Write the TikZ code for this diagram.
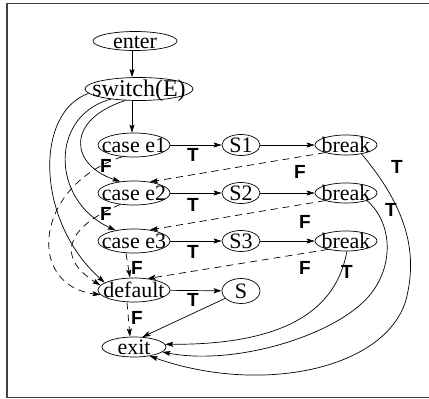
\documentclass[tikz,border=0pt]{standalone}
\usepackage{fontspec}
\setmainfont{Liberation Serif}
\newfontfamily\lblfont{Liberation Sans}
\usetikzlibrary{shapes.geometric,arrows.meta}
\newcommand{\ntext}[1]{\makebox[0pt]{\raisebox{-0.33em}[0pt][0pt]{#1}}}
\begin{document}
\begin{tikzpicture}[x=1pt,y=-1pt,
  nd/.style={ellipse,draw,line width=0.7pt,inner sep=0pt,font=\fontsize{22}{26}\selectfont},
  casebox/.style={nd,minimum width=72pt,minimum height=24pt},
  sbox/.style={nd,minimum width=38pt,minimum height=21pt},
  brk/.style={nd,minimum width=62pt,minimum height=20pt},
  edge/.style={line width=0.7pt,-{Stealth[length=8pt,width=5pt,inset=1.5pt]}},
  fedge/.style={edge,dash pattern=on 7pt off 5pt},
  lbl/.style={font=\lblfont\bfseries\fontsize{19}{21}\selectfont,inner sep=0pt}]
\useasboundingbox (0,0) rectangle (429,399);
\draw[line width=1.2pt,black!75] (7,3.5) rectangle (445,397.5);

\node[nd,minimum width=84pt,minimum height=19pt] (enter) at (135,41) {\ntext{enter}};
\node[nd,minimum width=108pt,minimum height=23pt,font=\fontsize{24}{28}\selectfont] (sw) at (139,89) {\ntext{switch(E)}};
\node[casebox] (e1) at (134,145) {\ntext{case e1}};
\node[casebox] (e2) at (134,193) {\ntext{case e2}};
\node[casebox] (e3) at (134,241) {\ntext{case e3}};
\node[casebox] (def) at (134,290) {\ntext{default}};
\node[nd,minimum width=64pt,minimum height=20pt] (exit) at (134,347) {\ntext{exit}};
\node[sbox] (s1) at (241,145) {\ntext{S1}};
\node[sbox] (s2) at (241,193) {\ntext{S2}};
\node[sbox] (s3) at (241,241) {\ntext{S3}};
\node[nd,minimum width=38pt,minimum height=25pt] (s) at (241,291) {\ntext{S}};
\node[brk] (b1) at (346,145) {\ntext{break}};
\node[brk] (b2) at (346,193) {\ntext{break}};
\node[brk] (b3) at (346,241) {\ntext{break}};

% vertical
\draw[edge] (enter.south -| 132,0) -- (sw.north -| 132,0);
\draw[edge] (sw.south -| 132,0) -- (e1.north -| 132,0);

% rows
\draw[edge] (e1) -- (s1);
\draw[edge] (s1) -- (b1);
\draw[edge] (e2) -- (s2);
\draw[edge] (s2) -- (b2);
\draw[edge] (e3) -- (s3);
\draw[edge] (s3) -- (b3);
\draw[edge] (def) -- (s);
\draw[edge] (s) -- (exit.50);

% switch to cases
\draw[edge] (sw.220) .. controls (65,120) and (70,165) .. (e2.140);
\draw[edge] (sw.200) .. controls (50,115) and (50,200) .. (e3.150);
\draw[edge] (sw.185) .. controls (35,112) and (35,220) .. (def.166);

% F edges on left
\draw[fedge] (e1.225) .. controls (35,185) and (25,285) .. (def.188);
\draw[fedge] (e2.220) .. controls (60,230) and (60,260) .. (def.172);
\draw[fedge] ([xshift=-8pt]e3.south) -- ([xshift=-4pt]def.north);
\draw[fedge] ([xshift=-7pt]def.south) -- ([xshift=-4pt]exit.north);

% break F edges
\draw[fedge] (b1.200) -- (e2.35);
\draw[fedge] (b2.200) -- (e3.35);
\draw[fedge] (b3.205) -- (def.40);

% break T edges to exit
\draw[edge] (b1.330) .. controls (413,215) and (416,260) .. (406,300) .. controls (385,370) and (260,395) .. (exit.330);
\draw[edge] (b2.340) .. controls (395,225) and (395,275) .. (360,305) .. controls (320,340) and (230,365) .. (exit.350);
\draw[edge] (b3.275) .. controls (338,300) and (300,345) .. (exit.5);

% labels
\node[lbl] (t1) at (193,155) {T};
\node[lbl] (t2) at (193,205) {T};
\node[lbl] (t3) at (193,252) {T};
\node[lbl] (t4) at (193,300) {T};
\node[lbl] (tb1) at (397,167) {T};
\node[lbl] (tb2) at (391,210) {T};
\node[lbl] (tb3) at (347,272) {T};
\node[lbl] (f1) at (106,166) {F};
\node[lbl] (f2) at (106,214) {F};
\node[lbl] (f3) at (137,268) {F};
\node[lbl] (f4) at (137,318) {F};
\node[lbl] (fb1) at (300,172) {F};
\node[lbl] (fb2) at (305,222) {F};
\node[lbl] (fb3) at (305,268) {F};
\end{tikzpicture}
\end{document}
